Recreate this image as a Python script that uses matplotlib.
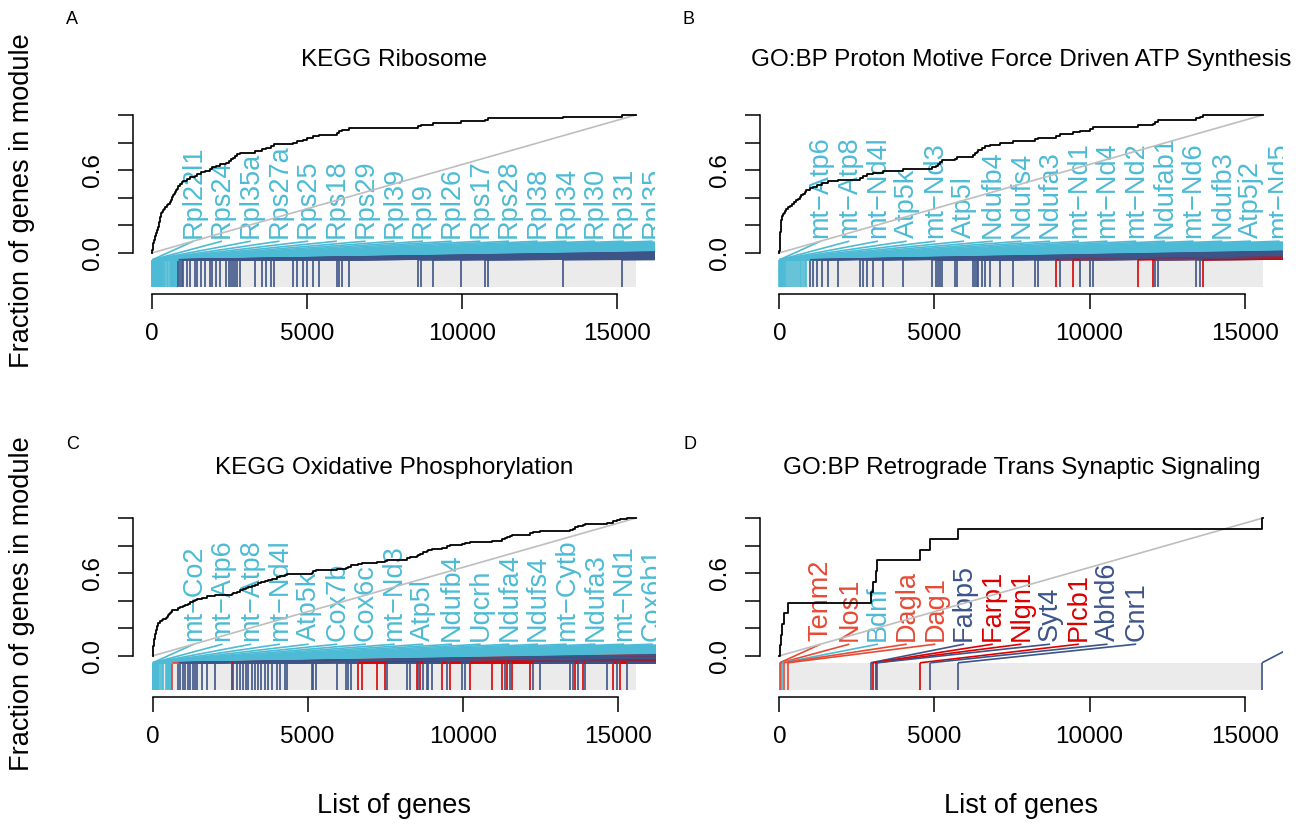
import numpy as np
import matplotlib.pyplot as plt
from matplotlib.collections import LineCollection

plt.rcParams['font.family'] = ['Liberation Sans', 'DejaVu Sans']

# total number of genes in the ranked list
N_GENES = 15600

# colours of the gene groups
COLS = {'cyan': '#4DBBD5', 'blue': '#3C5488', 'orange': '#E64B35', 'red': '#DC0000'}

# Panel A - KEGG Ribosome
a_title = 'KEGG Ribosome'
a_cyan = [3, 8, 15, 22, 31, 40, 52, 65, 80, 96, 115, 138, 155, 168, 180, 193, 205, 217,
          230, 243, 256, 268, 281, 294, 307, 340, 385, 430, 480, 525, 570, 605, 630, 655,
          680, 705, 730, 760, 790, 820]
a_blue = [849, 903, 956, 1010, 1118, 1225, 1386, 1461, 1580, 1709, 1870, 1923, 2063, 2192,
          2386, 2493, 2536, 2622, 2676, 2729, 2837, 3320, 3535, 3675, 3826, 3933, 4535,
          4664, 4857, 4986, 5201, 5394, 5953, 6039, 6114, 6361, 8564, 8672, 9069, 9951,
          10735, 10842, 13239, 15141]
a_labels = ['Rpl22l1', 'Rps24', 'Rpl35a', 'Rps27a', 'Rps25', 'Rps18', 'Rps29', 'Rpl39',
            'Rpl9', 'Rpl26', 'Rps17', 'Rps28', 'Rpl38', 'Rpl34', 'Rpl30', 'Rpl31', 'Rpl35']

# Panel B - GO:BP Proton Motive Force Driven ATP Synthesis
b_title = 'GO:BP Proton Motive Force Driven ATP Synthesis'
b_cyan = [2, 5, 8, 11, 14, 17, 20, 23, 26, 29, 32, 35, 38, 42, 46, 50, 55, 60, 66, 80,
          100, 120, 145, 170, 220, 280, 350, 420, 480, 540, 600, 650, 700, 760, 820, 870]
b_blue = [983, 1091, 1198, 1359, 1574, 1897, 2595, 2703, 2810, 3025, 3347, 3971, 4927,
          5034, 5099, 5174, 5228, 5658, 5711, 6249, 6302, 6356, 6410, 6517, 6625, 6786,
          7108, 7538, 8237, 8323, 9043, 9687, 10010, 10096, 12105, 12213, 13448, 13556]
b_red = [8914, 9472, 11568, 12051, 13642]
b_labels = ['mt\u2212Atp6', 'mt\u2212Atp8', 'mt\u2212Nd4l', 'Atp5k', 'mt\u2212Nd3', 'Atp5l',
            'Ndufb4', 'Ndufs4', 'Ndufa3', 'mt\u2212Nd1', 'mt\u2212Nd4', 'mt\u2212Nd2',
            'Ndufab1', 'mt\u2212Nd6', 'Ndufb3', 'Atp5j2', 'mt\u2212Nd5']

# Panel C - KEGG Oxidative Phosphorylation
c_title = 'KEGG Oxidative Phosphorylation'
c_cyan = [2, 6, 10, 14, 18, 22, 26, 30, 34, 38, 43, 48, 53, 58, 64, 70, 77, 85, 95, 105,
          115, 125, 135, 145, 155, 165, 175, 185, 230, 290, 350, 420, 470, 500, 530, 560,
          590, 615]
c_blue = [833, 887, 973, 1048, 1134, 1209, 1295, 1370, 1445, 1585, 1746, 2015, 2606, 2713,
          2821, 2928, 3014, 3089, 3197, 3304, 3412, 3487, 3627, 3713, 3842, 4003, 4110,
          4271, 4325, 5131, 5185, 5271, 5937, 6238, 6313, 6399, 7549, 8194, 8301, 8570,
          8731, 8838, 8892, 9000, 9483, 9967, 10074, 11364, 11525, 12277, 12492, 13459,
          13566, 13728, 13943, 14641, 14964, 15286]
c_red = [2552, 6636, 6743, 7227, 7495, 8516, 8624, 9322, 9591, 10235, 10934, 11256, 11417,
         11579, 12170, 13620, 13889, 14856, 15071]
c_orange = [639]
c_labels = ['mt\u2212Co2', 'mt\u2212Atp6', 'mt\u2212Atp8', 'mt\u2212Nd4l', 'Atp5k', 'Cox7b',
            'Cox6c', 'mt\u2212Nd3', 'Atp5l', 'Ndufb4', 'Uqcrh', 'Ndufa4', 'Ndufs4',
            'mt\u2212Cytb', 'Ndufa3', 'mt\u2212Nd1', 'Cox6b1']

# Panel D - GO:BP Retrograde Trans Synaptic Signaling
d_title = 'GO:BP Retrograde Trans Synaptic Signaling'
d_cyan = [90]
d_orange = [10, 45, 140, 280]
d_red = [3020, 3100, 4530]
d_blue = [2940, 3150, 4870, 5760, 15560]
d_labels = ['Tenm2', 'Nos1', 'Bdnf', 'Dagla', 'Dag1', 'Fabp5', 'Farp1', 'Nlgn1', 'Syt4',
            'Plcb1', 'Abhd6', 'Cnr1', 'Mgll']

W, H = 1312, 827
fig = plt.figure(figsize=(W / 100, H / 100), dpi=100)


def px_axes(left, top, width=522.6, height=186.3):
    return fig.add_axes([left / W, 1 - (top + height) / H, width / W, height / H])


def evidence(ax, groups, labels):
    ranks, cols = [], []
    for name, vals in groups.items():
        ranks += list(vals)
        cols += [COLS[name]] * len(vals)
    order = np.argsort(ranks, kind='stable')
    ranks = np.array(ranks, dtype=float)[order]
    cols = [cols[i] for i in order]
    n = len(ranks)

    ax.set_xlim(-0.04 * N_GENES, 1.04 * N_GENES)
    ax.set_ylim(-0.3, 1.05)

    # grey band with one bar per gene
    ax.fill_between([0, N_GENES], -0.25, -0.05, color='#EBEBEB', lw=0, zorder=1)
    ax.vlines(ranks, -0.25, -0.05, colors=cols, lw=1.2, zorder=2)

    # label positions, pushed apart to the right
    lab_x = np.zeros(n)
    prev = 1330 - 925
    for i, r in enumerate(ranks):
        lab_x[i] = max(r + 1150, prev + 925)
        prev = lab_x[i]
    segs = [[(r, -0.05), (lx, 0.085)] for r, lx in zip(ranks, lab_x)]
    ax.add_collection(LineCollection(segs, colors=cols, lw=1.2, zorder=3))

    for i, name in enumerate(labels):
        ax.text(lab_x[i], 0.11, name, rotation=90, ha='center', va='bottom',
                color=cols[i], fontsize=19.5, clip_on=True, zorder=4)

    # cumulative curve and diagonal
    xs = np.concatenate([[0], ranks, [N_GENES]])
    ys = np.concatenate([[0], np.arange(1, n + 1) / n, [1]])
    ax.step(xs, ys, where='post', color='black', lw=1.3, zorder=5)
    ax.plot([0, N_GENES], [0, 1], color='#BEBEBE', lw=1.2, zorder=4)

    for s in ['top', 'right']:
        ax.spines[s].set_visible(False)
    ax.spines['left'].set_bounds(0, 1)
    ax.spines['bottom'].set_bounds(0, 15000)
    ax.spines['left'].set_linewidth(1.1)
    ax.spines['bottom'].set_linewidth(1.1)
    ax.set_xticks([0, 5000, 10000, 15000])
    ax.set_xticklabels(['0', '5000', '10000', '15000'])
    ax.set_yticks([0, 0.2, 0.4, 0.6, 0.8, 1.0])
    ax.set_yticklabels(['0.0', '', '', '0.6', '', ''])
    ax.tick_params(length=11, width=1.1, labelsize=17.5, pad=10)
    for lab in ax.get_yticklabels():
        lab.set_rotation(90)
        lab.set_va('center')


panels = [
    (132.8, 108, a_title, {'cyan': a_cyan, 'blue': a_blue}, a_labels, 60, 'A', 72, 20),
    (760.0, 108, b_title, {'cyan': b_cyan, 'blue': b_blue, 'red': b_red}, b_labels, 60, 'B', 688, 20),
    (133.2, 511, c_title, {'cyan': c_cyan, 'blue': c_blue, 'red': c_red, 'orange': c_orange},
     c_labels, 468, 'C', 73, 445),
    (760.0, 511, d_title, {'cyan': d_cyan, 'orange': d_orange, 'red': d_red, 'blue': d_blue},
     d_labels, 468, 'D', 690, 445),
]

for k, (left, top, title, groups, labels, ty, letter, lx, ly) in enumerate(panels):
    ax = px_axes(left, top)
    evidence(ax, groups, labels)
    cx = left + 522.6 / 2
    fig.text(cx / W, 1 - ty / H, title, ha='center', va='center', fontsize=17.5)
    fig.text(lx / W, 1 - ly / H, letter, ha='center', va='center', fontsize=13)
    if k % 2 == 0:
        fig.text(22 / W, 1 - (top + 93) / H, 'Fraction of genes in module', rotation=90,
                 ha='center', va='center', fontsize=19.5)
    if k >= 2:
        fig.text(cx / W, 1 - 806 / H, 'List of genes', ha='center', va='center', fontsize=19.5)

fig.savefig('out.png', dpi=100)
